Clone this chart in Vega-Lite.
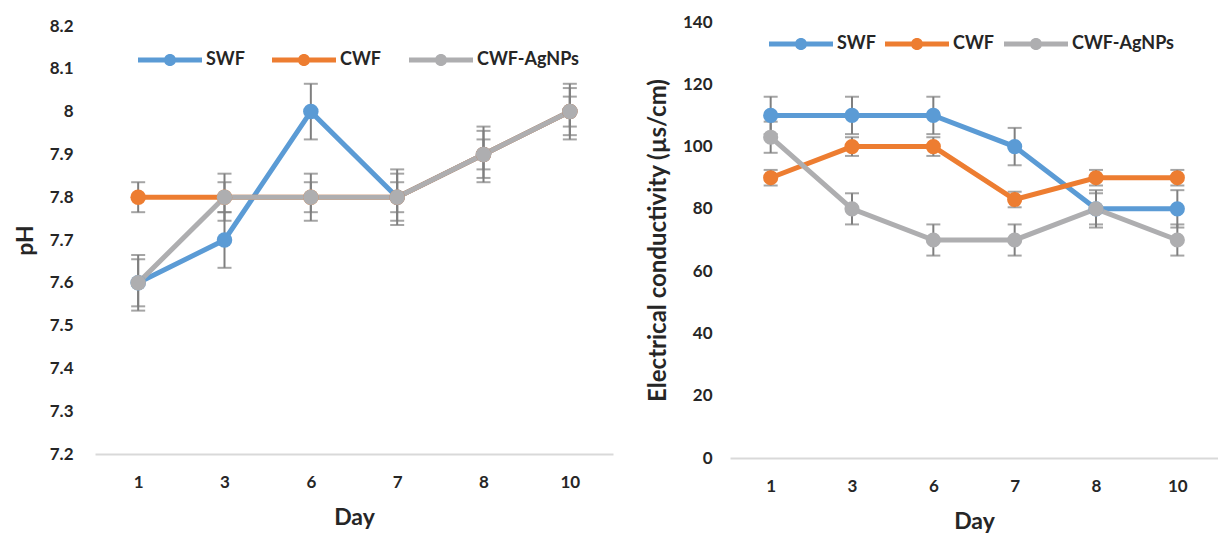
{
  "$schema": "https://vega.github.io/schema/vega-lite/v6.json",
  "padding": {"left": 14, "top": 12, "right": 0, "bottom": 0},
  "background": "white",
  "config": {
    "view": {"stroke": null},
    "font": "Lato",
    "axis": {"labelFont": "Lato", "labelFontWeight": "bold", "labelFontSize": 17, "labelColor": "#262626", "titleFont": "Lato", "titleFontWeight": "bold", "titleFontSize": 23, "titleColor": "#262626", "ticks": false, "grid": false, "domain": false},
    "legend": {"labelFont": "Lato", "labelFontWeight": "bold", "labelFontSize": 18, "labelColor": "#262626"}
  },
  "datasets": {
    "ph": [
      {"day": 1, "series": "SWF", "value": 7.6, "err": 0.065},
      {"day": 3, "series": "SWF", "value": 7.7, "err": 0.065},
      {"day": 6, "series": "SWF", "value": 8.0, "err": 0.065},
      {"day": 7, "series": "SWF", "value": 7.8, "err": 0.065},
      {"day": 8, "series": "SWF", "value": 7.9, "err": 0.065},
      {"day": 10, "series": "SWF", "value": 8.0, "err": 0.065},
      {"day": 1, "series": "CWF", "value": 7.8, "err": 0.035},
      {"day": 3, "series": "CWF", "value": 7.8, "err": 0.035},
      {"day": 6, "series": "CWF", "value": 7.8, "err": 0.035},
      {"day": 7, "series": "CWF", "value": 7.8, "err": 0.035},
      {"day": 8, "series": "CWF", "value": 7.9, "err": 0.035},
      {"day": 10, "series": "CWF", "value": 8.0, "err": 0.035},
      {"day": 1, "series": "CWF-AgNPs", "value": 7.6, "err": 0.055},
      {"day": 3, "series": "CWF-AgNPs", "value": 7.8, "err": 0.055},
      {"day": 6, "series": "CWF-AgNPs", "value": 7.8, "err": 0.055},
      {"day": 7, "series": "CWF-AgNPs", "value": 7.8, "err": 0.055},
      {"day": 8, "series": "CWF-AgNPs", "value": 7.9, "err": 0.055},
      {"day": 10, "series": "CWF-AgNPs", "value": 8.0, "err": 0.055}
    ],
    "ec": [
      {"day": 1, "series": "SWF", "value": 110, "err": 6},
      {"day": 3, "series": "SWF", "value": 110, "err": 6},
      {"day": 6, "series": "SWF", "value": 110, "err": 6},
      {"day": 7, "series": "SWF", "value": 100, "err": 6},
      {"day": 8, "series": "SWF", "value": 80, "err": 6},
      {"day": 10, "series": "SWF", "value": 80, "err": 6},
      {"day": 1, "series": "CWF", "value": 90, "err": 2.5},
      {"day": 3, "series": "CWF", "value": 100, "err": 3},
      {"day": 6, "series": "CWF", "value": 100, "err": 3},
      {"day": 7, "series": "CWF", "value": 83, "err": 2.5},
      {"day": 8, "series": "CWF", "value": 90, "err": 2.5},
      {"day": 10, "series": "CWF", "value": 90, "err": 2.5},
      {"day": 1, "series": "CWF-AgNPs", "value": 103, "err": 5},
      {"day": 3, "series": "CWF-AgNPs", "value": 80, "err": 5},
      {"day": 6, "series": "CWF-AgNPs", "value": 70, "err": 5},
      {"day": 7, "series": "CWF-AgNPs", "value": 70, "err": 5},
      {"day": 8, "series": "CWF-AgNPs", "value": 80, "err": 5},
      {"day": 10, "series": "CWF-AgNPs", "value": 70, "err": 5}
    ]
  },
  "center": true,
  "spacing": 33,
  "resolve": {"scale": {"color": "independent"}, "legend": {"color": "independent"}},
  "hconcat": [
    {
      "width": 518,
      "height": 428,
      "data": {"name": "ph"},
      "encoding": {
        "x": {"field": "day", "type": "ordinal", "scale": {"type": "point", "padding": 0.5}, "axis": {"title": "Day", "labelAngle": 0, "domain": true, "domainColor": "#D9D9D9", "domainWidth": 2, "labelPadding": 20, "titlePadding": 16}},
        "y": {"field": "value", "type": "quantitative", "scale": {"domain": [7.2, 8.2], "zero": false, "nice": false}, "axis": {"title": "pH", "values": [7.2, 7.3, 7.4, 7.5, 7.6, 7.7, 7.8, 7.9, 8.0, 8.1, 8.2], "format": ".1~f", "labelPadding": 22, "titlePadding": 12}},
        "color": {"field": "series", "type": "nominal", "sort": ["SWF", "CWF", "CWF-AgNPs"], "scale": {"domain": ["SWF", "CWF", "CWF-AgNPs"], "range": ["#5B9BD5", "#ED7D31", "#AEAEB0"]},
          "legend": {"orient": "none", "legendX": 43, "legendY": 2, "direction": "horizontal", "title": null, "symbolType": "M-1,-0.08L1,-0.08L1,0.08L-1,0.08Z M-0.19,0A0.19,0.19 0 1,1 0.19,0A0.19,0.19 0 1,1 -0.19,0Z", "symbolSize": 4096, "symbolStrokeWidth": 0, "symbolOpacity": 1, "labelOffset": 4, "columnPadding": 27}}
      },
      "layer": [
        {
          "mark": {"type": "errorbar", "ticks": {"size": 14, "thickness": 2, "color": "#7F7F7F"}, "rule": {"strokeWidth": 2, "color": "#7F7F7F"}},
          "encoding": {"yError": {"field": "err"}, "color": {"value": "#7F7F7F"}}
        },
        {
          "mark": {"type": "line", "strokeWidth": 5}
        },
        {
          "mark": {"type": "point", "filled": true, "size": 240, "opacity": 1}
        }
      ]
    },
    {
      "width": 488,
      "height": 436,
      "data": {"name": "ec"},
      "encoding": {
        "x": {"field": "day", "type": "ordinal", "scale": {"type": "point", "padding": 0.5}, "axis": {"title": "Day", "labelAngle": 0, "domain": true, "domainColor": "#D9D9D9", "domainWidth": 2, "labelPadding": 20, "titlePadding": 16}},
        "y": {"field": "value", "type": "quantitative", "scale": {"domain": [0, 140], "nice": false}, "axis": {"title": "Electrical conductivity (µs/cm)", "titleFontSize": 24, "values": [0, 20, 40, 60, 80, 100, 120, 140], "labelPadding": 18, "titlePadding": 12}},
        "color": {"field": "series", "type": "nominal", "sort": ["SWF", "CWF", "CWF-AgNPs"], "scale": {"domain": ["SWF", "CWF", "CWF-AgNPs"], "range": ["#5B9BD5", "#ED7D31", "#AEAEB0"]},
          "legend": {"orient": "none", "legendX": 39, "legendY": -10, "direction": "horizontal", "title": null, "symbolType": "M-1,-0.08L1,-0.08L1,0.08L-1,0.08Z M-0.19,0A0.19,0.19 0 1,1 0.19,0A0.19,0.19 0 1,1 -0.19,0Z", "symbolSize": 4096, "symbolStrokeWidth": 0, "symbolOpacity": 1, "labelOffset": 4, "columnPadding": 9}}
      },
      "layer": [
        {
          "mark": {"type": "errorbar", "ticks": {"size": 14, "thickness": 2, "color": "#7F7F7F"}, "rule": {"strokeWidth": 2, "color": "#7F7F7F"}},
          "encoding": {"yError": {"field": "err"}, "color": {"value": "#7F7F7F"}}
        },
        {
          "mark": {"type": "line", "strokeWidth": 5}
        },
        {
          "mark": {"type": "point", "filled": true, "size": 230, "opacity": 1}
        }
      ]
    }
  ]
}
